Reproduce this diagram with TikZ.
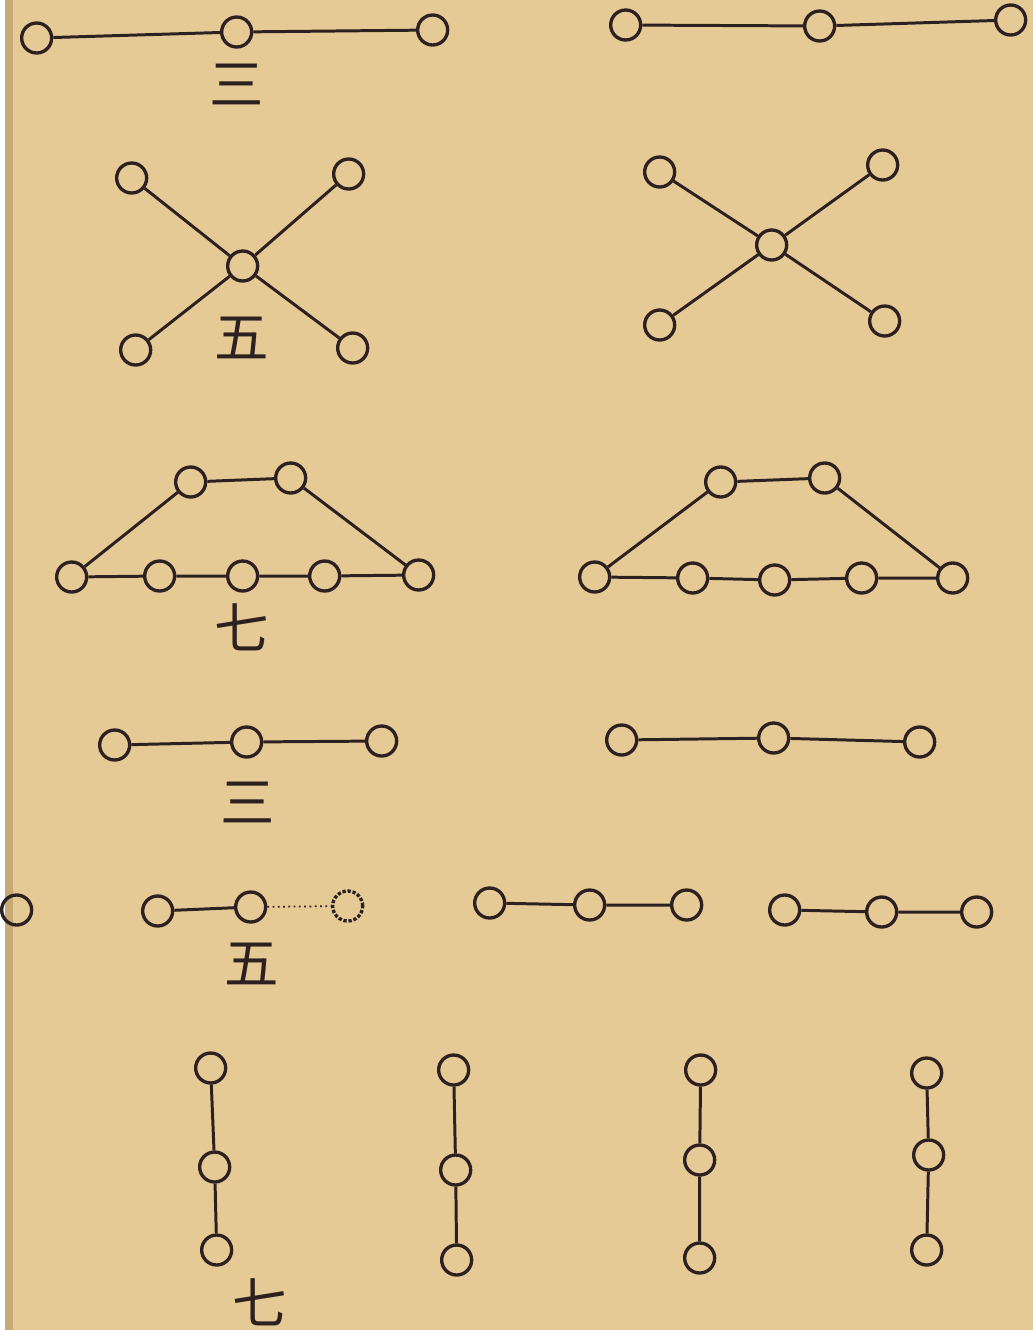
\documentclass[tikz,border=0pt]{standalone}
\usepackage{fontspec}
\newfontfamily\cjk{Noto Sans CJK SC}
\usetikzlibrary{positioning}
\definecolor{cPaper}{RGB}{230,202,150}
\definecolor{cEdge}{RGB}{200,170,118}
\definecolor{cInk}{RGB}{45,32,32}
\tikzset{
	bead/.style   ={circle, draw=cInk, line width=1.9pt, minimum size=0.6cm, inner sep=0pt},
	cord/.style   ={draw=cInk, line width=1.7pt},
	faint/.style  ={cord, line width=1pt, dotted},
	numeral/.style={text=cInk, inner sep=0pt, font=\cjk\fontsize{31}{31}\selectfont},
}

\begin{document}
\begin{tikzpicture}[x=0.02cm, y=-0.02cm]
	\fill[cPaper] (0,0) rectangle (1028,1330);
	\fill[cEdge] (0,0) rectangle (8,1330);
	% row 1: three in a line
	\node[bead] (ta1) at (32,38) {};
	\node[bead] (ta2) at (232,32) {};
	\node[bead] (ta3) at (428,30) {};
	\node[bead] (tb1) at (621,25) {};
	\node[bead] (tb2) at (815,26) {};
	\node[bead] (tb3) at (1006,20) {};
	\draw[cord] (ta1) -- (ta2) -- (ta3);
	\draw[cord] (tb1) -- (tb2) -- (tb3);
	\node[numeral] (san1) at (232,84) {三};
	% row 2: five as a cross
	\node[bead] (xa0) at (238,266) {};
	\node[bead] (xa1) at (127,178) {};
	\node[bead] (xa2) at (344,174) {};
	\node[bead] (xa3) at (131,350) {};
	\node[bead] (xa4) at (348,348) {};
	\node[bead] (xb0) at (767,245) {};
	\node[bead] (xb1) at (655,172) {};
	\node[bead] (xb2) at (878,165) {};
	\node[bead] (xb3) at (655,325) {};
	\node[bead] (xb4) at (880,321) {};
	\foreach \k in {1,...,4} {
		\draw[cord] (xa0) -- (xa\k);
		\draw[cord] (xb0) -- (xb\k);
	}
	\node[numeral] (wu1) at (237,338) {五};
	% row 3: seven as a trapezium
	\node[bead] (pa1) at (186,482) {};
	\node[bead] (pa2) at (286,478) {};
	\node[bead] (qa1) at (67,577) {};
	\node[bead] (qa2) at (155,576) {};
	\node[bead] (qa3) at (238,576) {};
	\node[bead] (qa4) at (320,576) {};
	\node[bead] (qa5) at (414,575) {};
	\node[bead] (pb1) at (716,482) {};
	\node[bead] (pb2) at (820,478) {};
	\node[bead] (qb1) at (590,577) {};
	\node[bead] (qb2) at (688,578) {};
	\node[bead] (qb3) at (770,580) {};
	\node[bead] (qb4) at (857,578) {};
	\node[bead] (qb5) at (948,578) {};
	\draw[cord] (qa1) -- (pa1) -- (pa2) -- (qa5);
	\draw[cord] (qa1) -- (qa2) -- (qa3) -- (qa4) -- (qa5);
	\draw[cord] (qb1) -- (pb1) -- (pb2) -- (qb5);
	\draw[cord] (qb1) -- (qb2) -- (qb3) -- (qb4) -- (qb5);
	\node[numeral] (qi1) at (237,627) {七};
	% row 4: three again
	\node[bead] (ra1) at (110,745) {};
	\node[bead] (ra2) at (242,742) {};
	\node[bead] (ra3) at (377,741) {};
	\node[bead] (rb1) at (617,740) {};
	\node[bead] (rb2) at (769,738) {};
	\node[bead] (rb3) at (915,742) {};
	\draw[cord] (ra1) -- (ra2) -- (ra3);
	\draw[cord] (rb1) -- (rb2) -- (rb3);
	\node[numeral] (san2) at (243,802) {三};
	% row 5: five as short strings
	\node[bead] (lone) at (12,910) {};
	\node[bead] (sa1) at (153,911) {};
	\node[bead] (sa2) at (246,907) {};
	\node[bead, densely dotted] (sa3) at (343,906) {};
	\node[bead] (sb1) at (485,903) {};
	\node[bead] (sb2) at (585,905) {};
	\node[bead] (sb3) at (682,905) {};
	\node[bead] (sc1) at (780,910) {};
	\node[bead] (sc2) at (877,912) {};
	\node[bead] (sc3) at (972,912) {};
	\draw[cord] (sa1) -- (sa2);
	\draw[faint] (sa2) -- (sa3);
	\draw[cord] (sb1) -- (sb2) -- (sb3);
	\draw[cord] (sc1) -- (sc2) -- (sc3);
	\node[numeral] (wu2) at (247,964) {五};
	% row 6: seven as upright strings
	\node[bead] (va1) at (206,1068) {};
	\node[bead] (va2) at (210,1167) {};
	\node[bead] (va3) at (212,1250) {};
	\node[bead] (vb1) at (449,1070) {};
	\node[bead] (vb2) at (451,1170) {};
	\node[bead] (vb3) at (452,1260) {};
	\node[bead] (vc1) at (696,1070) {};
	\node[bead] (vc2) at (695,1160) {};
	\node[bead] (vc3) at (695,1258) {};
	\node[bead] (vd1) at (922,1073) {};
	\node[bead] (vd2) at (924,1155) {};
	\node[bead] (vd3) at (922,1250) {};
	\foreach \s in {a,b,c,d} {
		\draw[cord] (v\s1) -- (v\s2) -- (v\s3);
	}
	\node[numeral] (qi2) at (255,1302) {七};
\end{tikzpicture}
\end{document}
